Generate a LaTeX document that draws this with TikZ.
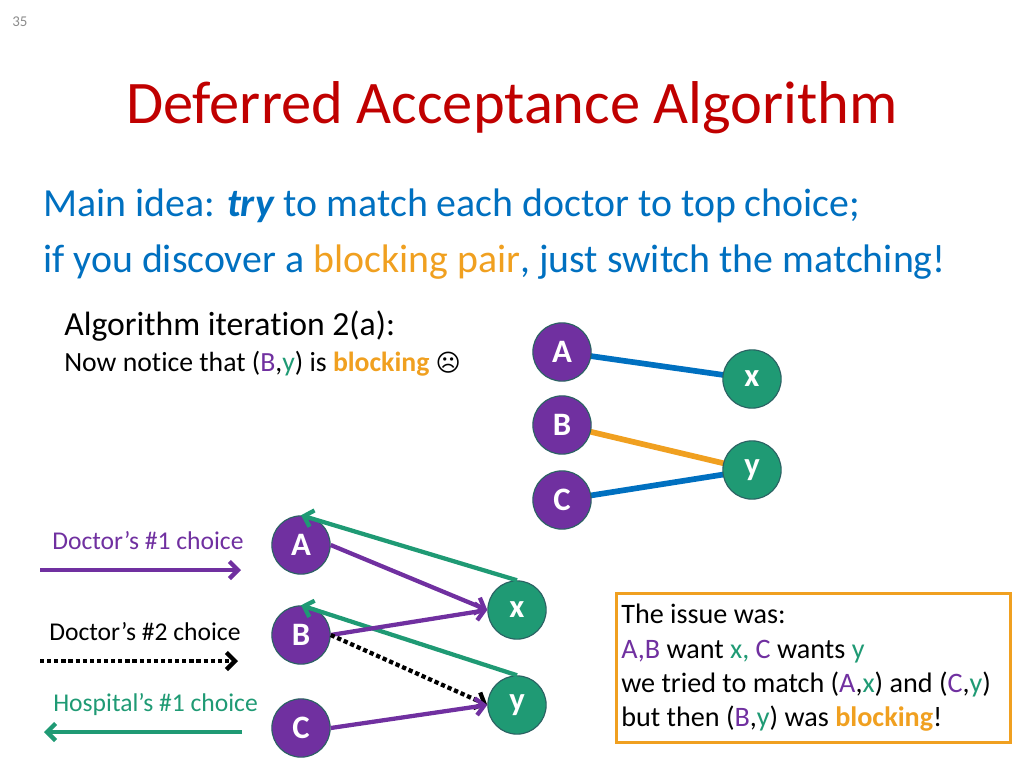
\documentclass[tikz,border=0pt]{standalone}
\usepackage{fontspec}
\setmainfont{Carlito}[Ligatures={NoCommon}]
\newfontfamily\symfont{DejaVu Sans}
\usetikzlibrary{arrows.meta}
\pgfdeclarelayer{bg}
\pgfsetlayers{bg,main}
\definecolor{titlered}{HTML}{C00000}
\definecolor{bodyblue}{HTML}{0070C0}
\definecolor{myorange}{HTML}{F0A020}
\definecolor{mypurple}{HTML}{7030A0}
\definecolor{mygreen}{HTML}{1F9A74}
\definecolor{edgeblue}{HTML}{0070C0}
\definecolor{ringcol}{HTML}{2B6263}
\definecolor{numgray}{HTML}{8C8C8C}
\begin{document}
\begin{tikzpicture}[x=0.703125pt,y=-0.703125pt,
  doc/.style={circle,fill=mypurple,draw=ringcol,line width=0.8pt,minimum size=41pt,inner sep=0pt,text=white,font=\fontsize{23}{26}\selectfont\bfseries},
  hos/.style={circle,fill=mygreen,draw=ringcol,line width=0.8pt,minimum size=41pt,inner sep=0pt,text=white,font=\fontsize{23}{26}\selectfont\bfseries},
  txt/.style={anchor=base west,inner sep=0pt},
  match/.style={line width=4pt,edgeblue},
  block/.style={line width=4pt,myorange},
  dchoice/.style={line width=3pt,mypurple,-{Straight Barb[length=6pt,width=12pt,line width=3pt]}},
  hchoice/.style={line width=3pt,mygreen,-{Straight Barb[length=6pt,width=12pt,line width=3pt]}},
  dsecond/.style={line width=3pt,black,dotted,-{Straight Barb[length=6pt,width=12pt,line width=3pt]}},
]
\useasboundingbox (0,0) rectangle (1024,768);
\node[txt,text=numgray,font=\fontsize{10.5}{12}\selectfont] (num) at (12,27) {35};
\node[anchor=base,inner sep=0pt,text=titlered,font=\fontsize{42.5}{50}\selectfont] (title) at (512,124) {Deferred Acceptance Algorithm};
\node[txt,text=bodyblue,font=\fontsize{28}{32}\selectfont] (l1) at (43,217) {Main idea: \textbf{\textit{try}} to match each doctor to top choice;};
\node[txt,text=bodyblue,font=\fontsize{28}{32}\selectfont] (l2) at (43,273) {if you discover a \textcolor{myorange}{blocking pair}, just switch the matching!};
\node[txt,font=\fontsize{23.7}{27}\selectfont] (it) at (64,336) {Algorithm iteration 2(a):};
\node[txt,font=\fontsize{19.5}{23}\selectfont] (nt) at (64,371) {Now notice that (\textcolor{mypurple}{B},\textcolor{mygreen}{y}) is \textcolor{myorange}{\textbf{blocking}} {\symfont\fontsize{17}{20}\selectfont ☹}};
% top graph
\node[doc] (tA) at (562,352) {A};
\node[doc] (tB) at (562,425) {B};
\node[doc] (tC) at (562,500) {C};
\node[hos] (tx) at (752,379) {x};
\node[hos] (ty) at (752,470) {y};
\begin{pgfonlayer}{bg}
\draw[match] (tA.center) -- (tx.center);
\draw[block] (tB.center) -- (ty.center);
\draw[match] (tC.center) -- (ty.center);
\end{pgfonlayer}
% legend
\node[txt,text=mypurple,font=\fontsize{18}{21}\selectfont] (lg1) at (52,549) {Doctor’s \#1 choice};
\coordinate (a1s) at (40,570); \coordinate (a1e) at (241,570);
\draw[dchoice] (a1s) -- (a1e);
\node[txt,font=\fontsize{18}{21}\selectfont] (lg2) at (49,640) {Doctor’s \#2 choice};
\coordinate (a2s) at (40,661); \coordinate (a2e) at (238,661);
\draw[dsecond] (a2s) -- (a2e);
\node[txt,text=mygreen,font=\fontsize{18}{21}\selectfont] (lg3) at (53,711) {Hospital’s \#1 choice};
\coordinate (a3s) at (242,732); \coordinate (a3e) at (44,732);
\draw[hchoice] (a3s) -- (a3e);
% lower graph
\node[doc] (A) at (301,545) {A};
\node[doc] (B) at (301,635) {B};
\node[doc] (C) at (301,728) {C};
\node[hos] (x) at (517,610) {x};
\node[hos] (y) at (517,705) {y};
\draw[hchoice] (x.north) -- (A.north);
\draw[hchoice] (y.north) -- (B.north);
\draw[dchoice] (A.east) -- (x.west);
\draw[dchoice] (B.east) -- (x.west);
\draw[dsecond] (B.east) -- (y.west);
\draw[dchoice] (C.east) -- (y.west);
% box
\node[draw=myorange,line width=2.2pt,anchor=north west,minimum width=277pt,minimum height=105pt,inner sep=0pt] (box) at (615,592) {};
\node[txt,font=\fontsize{19.8}{23}\selectfont] (b1) at (621,623) {The issue was:};
\node[txt,font=\fontsize{19.8}{23}\selectfont] (b2) at (621,658) {\textcolor{mypurple}{A,B} want \textcolor{mygreen}{x,} \textcolor{mypurple}{C} wants \textcolor{mygreen}{y}};
\node[txt,font=\fontsize{19.8}{23}\selectfont] (b3) at (621,692) {we tried to match (\textcolor{mypurple}{A},\textcolor{mygreen}{x}) and (\textcolor{mypurple}{C},\textcolor{mygreen}{y})};
\node[txt,font=\fontsize{19.8}{23}\selectfont] (b4) at (621,726) {but then (\textcolor{mypurple}{B},\textcolor{mygreen}{y}) was \textcolor{myorange}{\textbf{blocking}}!};
\end{tikzpicture}
\end{document}
